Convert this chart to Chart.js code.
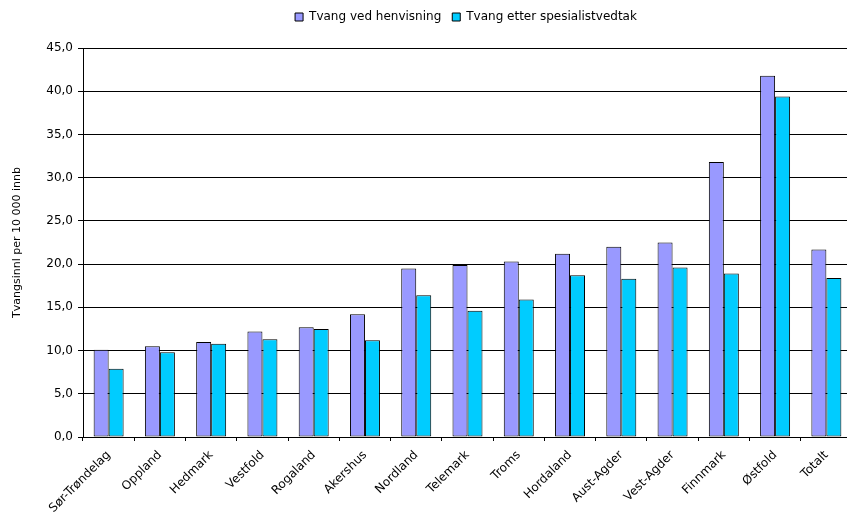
<!DOCTYPE html>
<html>
<head>
<meta charset="utf-8">
<script src="https://cdn.jsdelivr.net/npm/chart.js@4.4.1/dist/chart.umd.min.js"></script>
<style>
  html, body { margin: 0; padding: 0; background: #fff; overflow: hidden; }
  #wrap { width: 853px; height: 517px; }
</style>
</head>
<body>
<div id="wrap"><canvas id="chart-node-1" width="853" height="517"></canvas></div>
<script>
// Tvangsinnleggelser per fylke
var fylker = ["Sør-Trøndelag", "Oppland", "Hedmark", "Vestfold", "Rogaland", "Akershus", "Nordland",
  "Telemark", "Troms", "Hordaland", "Aust-Agder", "Vest-Agder", "Finnmark", "Østfold", "Totalt"];
var henvisning = [10.1, 10.5, 11.0, 12.2, 12.7, 14.2, 19.5, 19.9, 20.3, 21.2, 22.0, 22.5, 31.8, 41.8, 21.7];
var spesialist = [7.9, 9.8, 10.8, 11.3, 12.5, 11.2, 16.4, 14.6, 15.9, 18.7, 18.3, 19.6, 18.9, 39.4, 18.4];
var seriesNames = ["Tvang ved henvisning", "Tvang etter spesialistvedtak"];
var yTitle = "Tvangsinnl per 10 000 innb";

var fontFam = "'DejaVu Sans', Verdana, sans-serif";

// fixes legend height and moves it a bit right, like the excel original
var legendFix = {
  id: "legendFix",
  beforeLayout: function(chart) {
    var lg = chart.legend;
    if (lg && !lg._fixed) {
      var f = lg.fit;
      lg.fit = function() { f.call(this); this.height = 48; };
      lg._fixed = true;
    }
  },
  afterLayout: function(chart) {
    chart.legend.left += 40;
    chart.legend.right += 40;
  }
};

function generateChart(nodeName) {
  var ctx = document.getElementById(nodeName).getContext("2d");
  var config = {
    type: "bar",
    data: {
      labels: fylker,
      datasets: [{
        label: seriesNames[0],
        backgroundColor: "#9999FF",
        borderColor: "#000000",
        borderWidth: 1,
        borderSkipped: false,
        data: henvisning
      }, {
        label: seriesNames[1],
        backgroundColor: "#00CCFF",
        borderColor: "#000000",
        borderWidth: 1,
        borderSkipped: false,
        data: spesialist
      }]
    },
    options: {
      responsive: false,
      animation: false,
      layout: { padding: { left: 0, right: 1, top: 0, bottom: 0 } },
      datasets: { bar: { categoryPercentage: 0.585, barPercentage: 1.0 } },
      plugins: {
        tooltip: { enabled: false },
        legend: {
          position: "top",
          labels: {
            boxWidth: 8, boxHeight: 8, padding: 11,
            color: "#000",
            font: { family: fontFam, size: 12 }
          }
        }
      },
      scales: {
        x: {
          grid: { drawOnChartArea: false, drawTicks: true, tickLength: 4, color: "#000", offset: true },
          border: { color: "#000" },
          ticks: {
            autoSkip: false, minRotation: 45, maxRotation: 45, padding: 7,
            color: "#000", font: { family: fontFam, size: 12 }
          },
          afterFit: function(s) { s.height = 80; }
        },
        y: {
          min: 0, max: 45,
          grid: { color: "#000", tickLength: 5 },
          border: { color: "#000" },
          ticks: {
            stepSize: 5, padding: 5, color: "#000",
            font: { family: fontFam, size: 12 },
            callback: function(v) { return v.toFixed(1).replace(".", ","); }
          },
          title: {
            display: true, text: yTitle, color: "#000",
            font: { family: fontFam, size: 11 }, padding: { top: 11, bottom: 4 }
          },
          afterFit: function(s) { s.width = 83; }
        }
      }
    },
    plugins: [legendFix]
  };
  return new Chart(ctx, config);
}

generateChart("chart-node-1");
</script>
</body>
</html>
